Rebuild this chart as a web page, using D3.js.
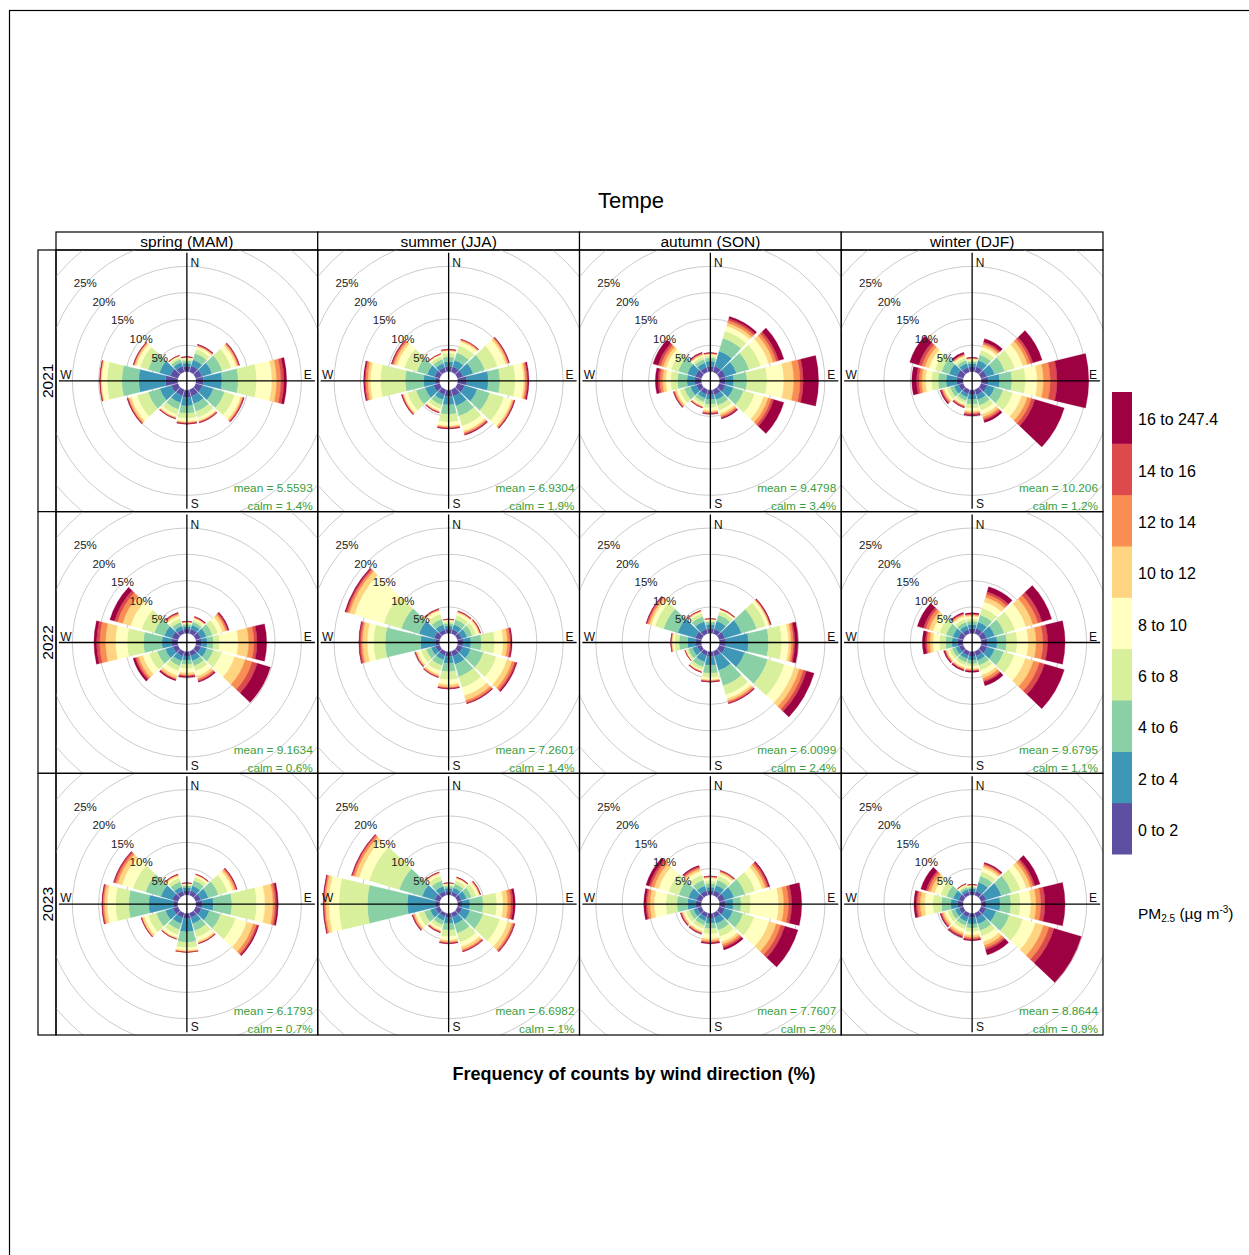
<!DOCTYPE html>
<html><head><meta charset="utf-8">
<script src="https://cdn.jsdelivr.net/npm/d3@7"></script>
<style>
body{margin:0;background:#fff}
svg{display:block}
text{font-family:"Liberation Sans",Arial,sans-serif}
</style>
</head><body>
<svg id="chart" width="1249" height="1255"></svg>
<script>
const title = "Tempe";
const xTitle = "Frequency of counts by wind direction (%)";
const seasons = ["spring (MAM)","summer (JJA)","autumn (SON)","winter (DJF)"];
const years = ["2021","2022","2023"];
const directions = [0,30,60,90,120,150,180,210,240,270,300,330];
const compass = ["N","E","S","W"];
const binLabels = ["0 to 2","2 to 4","4 to 6","6 to 8","8 to 10","10 to 12","12 to 14","14 to 16","16 to 247.4"];
const binColors = ["#5E4FA2","#3F97B7","#89D0A5","#D8EF9B","#FFFFBF","#FED481","#F98E52","#DD4A4C","#9E0142"];
const pctTicks = [5,10,15,20,25];
const gridRings = [5,10,15,20,25,30,35];
const means = [["5.5593","6.9304","9.4798","10.206"],["9.1634","7.2601","6.0099","9.6795"],["6.1793","6.6982","7.7607","8.8644"]];
const calms = [["1.4%","1.9%","3.4%","1.2%"],["0.6%","1.4%","2.4%","1.1%"],["0.7%","1%","2%","0.9%"]];

// frequency (%) per direction (rows, 0..330 deg) per concentration bin (columns)
const f2021Spring = [
[1.0,0.6,0.5,0.3,0.2,0.1,0.05,0.05,0.05],[1.2,1.2,1.3,0.8,0.5,0.2,0.1,0.1,0.1],[1.2,2.0,2.0,1.8,1.0,0.3,0.2,0.1,0.1],
[1.4,3.5,3.1,3.5,2.9,0.9,0.8,0.6,0.5],[1.3,2.2,2.2,2.0,1.2,0.3,0.2,0.1,0.1],[1.3,1.5,1.5,1.2,0.6,0.2,0.1,0.1,0.1],
[1.4,1.6,1.4,1.0,0.6,0.2,0.1,0.1,0.1],[1.2,1.4,1.3,1.0,0.5,0.2,0.1,0.05,0.05],[1.3,2.3,2.3,2.2,1.2,0.4,0.2,0.1,0.1],
[2.3,5.1,3.2,2.8,1.0,0.2,0.1,0.05,0.05],[1.5,2.2,2.2,1.6,0.8,0.3,0.15,0.1,0.05],[1.1,0.8,0.6,0.4,0.2,0.1,0.05,0.03,0.02]];
const f2021Summer = [
[1.0,0.9,0.9,0.7,0.4,0.15,0.1,0.05,0.05],[1.0,1.3,1.5,1.4,0.8,0.25,0.15,0.07,0.03],[1.1,2.0,2.3,2.5,1.6,0.4,0.2,0.1,0.1],
[1.7,4.1,2.2,2.9,1.6,0.3,0.3,0.2,0.2],[1.4,2.5,2.5,2.8,1.5,0.3,0.2,0.1,0.1],[1.3,1.9,2.0,2.0,1.0,0.3,0.2,0.2,0.1],
[1.2,1.6,1.8,1.5,0.7,0.2,0.2,0.1,0.1],[1.0,1.0,1.0,0.8,0.4,0.2,0.1,0.05,0.05],[1.2,1.7,1.8,1.7,0.7,0.2,0.1,0.1,0.1],
[0.8,2.2,3.5,4.7,1.9,0.5,0.4,0.2,0.2],[1.0,1.5,2.0,2.5,1.5,0.5,0.3,0.2,0.1],[0.9,0.8,0.8,0.6,0.3,0.1,0.05,0.03,0.02]];
const f2021Autumn = [
[1.0,1.0,0.6,0.4,0.25,0.15,0.1,0.05,0.05],[1.1,3.0,2.6,1.4,1.0,0.6,0.5,0.4,0.4],[1.2,2.2,2.5,2.3,1.6,0.9,0.6,0.5,1.0],
[1.1,1.6,2.5,3.8,3.2,1.9,1.2,0.6,2.9],[1.2,1.6,2.0,2.2,1.8,0.9,0.6,0.5,2.0],[1.0,1.0,1.1,1.0,0.6,0.4,0.3,0.2,0.2],
[0.9,0.9,0.9,0.7,0.5,0.3,0.2,0.1,0.1],[0.9,0.8,0.7,0.5,0.3,0.2,0.1,0.05,0.05],[1.0,1.2,1.2,0.9,0.6,0.3,0.2,0.1,0.1],
[1.2,1.5,1.8,1.3,0.9,0.6,0.5,0.4,0.5],[1.2,1.6,1.8,1.4,1.0,0.6,0.5,0.5,1.0],[0.9,0.9,0.7,0.5,0.3,0.2,0.15,0.1,0.15]];
const f2021Winter = [
[0.9,0.6,0.4,0.3,0.2,0.1,0.08,0.06,0.06],[1.0,1.3,1.1,0.9,0.7,0.4,0.3,0.3,0.6],[1.1,1.6,2.0,2.0,1.6,0.9,0.6,0.5,1.8],
[1.3,2.2,2.3,2.6,2.2,1.2,1.3,1.3,6.0],[1.2,1.5,1.7,1.9,1.8,1.1,0.8,0.7,5.8],[1.0,1.0,1.1,1.0,0.8,0.5,0.4,0.3,0.4],
[0.9,0.9,0.9,0.8,0.5,0.3,0.2,0.2,0.2],[0.8,0.7,0.7,0.5,0.3,0.2,0.15,0.1,0.15],[0.9,0.9,0.8,0.7,0.4,0.3,0.2,0.2,0.2],
[1.2,2.0,1.5,1.3,1.1,0.7,0.5,0.5,0.9],[1.2,1.6,1.5,1.3,1.2,0.8,0.6,0.6,1.8],[0.9,0.8,0.6,0.5,0.3,0.2,0.15,0.15,0.3]];
const f2022Spring = [
[0.8,0.5,0.4,0.2,0.15,0.1,0.05,0.05,0.05],[0.9,0.8,0.6,0.4,0.3,0.15,0.1,0.05,0.1],[1.0,1.1,1.2,1.1,0.9,0.6,0.3,0.2,0.2],
[1.0,1.1,1.2,1.2,3.5,2.0,1.0,0.6,1.8],[1.0,1.2,1.3,1.6,2.6,2.1,1.4,1.0,2.6],[0.9,1.0,1.0,1.0,1.0,0.5,0.3,0.2,0.2],
[0.8,0.8,0.8,0.8,0.8,0.4,0.2,0.1,0.2],[0.9,1.0,1.0,1.0,0.9,0.5,0.2,0.1,0.2],[1.0,1.5,1.6,1.6,1.3,0.8,0.4,0.3,0.4],
[1.1,1.9,3.5,3.1,2.2,1.9,1.1,0.6,0.5],[1.2,1.5,2.0,2.5,2.2,1.6,1.0,0.6,0.9],[0.8,0.7,0.8,0.7,0.5,0.3,0.2,0.1,0.1]];
const f2022Summer = [
[0.8,0.6,0.5,0.4,0.2,0.1,0.05,0.03,0.02],[0.8,1.0,1.0,0.8,0.5,0.2,0.1,0.05,0.05],[0.8,1.1,1.0,0.8,0.5,0.2,0.1,0.05,0.05],
[1.0,1.5,2.0,2.5,1.6,0.8,0.5,0.2,0.2],[1.0,1.6,2.5,2.6,2.1,1.0,0.5,0.3,0.2],[1.0,1.6,2.4,2.2,1.6,0.9,0.4,0.2,0.1],
[0.9,1.3,1.6,1.5,0.9,0.5,0.2,0.1,0.1],[0.8,0.9,1.1,1.1,0.7,0.3,0.15,0.1,0.05],[0.8,0.9,1.0,1.0,0.7,0.3,0.1,0.05,0.05],
[0.8,2.8,6.7,2.2,1.2,0.9,0.3,0.3,0.1],[1.1,3.0,3.5,3.5,5.8,1.0,0.4,0.3,0.2],[0.8,1.0,1.1,1.0,0.6,0.2,0.1,0.05,0.05]];
const f2022Autumn = [
[0.9,0.8,0.5,0.3,0.15,0.08,0.05,0.01,0.01],[0.9,1.6,1.2,0.7,0.3,0.1,0.05,0.03,0.02],[1.1,3.3,3.0,1.8,0.6,0.2,0.1,0.1,0.1],
[1.2,4.3,3.8,2.5,1.3,0.5,0.4,0.3,0.6],[1.2,3.8,4.6,3.3,2.0,1.0,0.8,0.6,1.5],[1.0,2.8,3.0,1.8,0.8,0.4,0.3,0.2,0.1],
[0.9,1.7,1.5,0.8,0.4,0.2,0.1,0.1,0.1],[0.8,1.3,1.0,0.6,0.2,0.1,0.1,0.05,0.05],[0.8,1.0,0.8,0.4,0.15,0.08,0.04,0.02,0.01],
[1.0,1.6,1.6,0.8,0.4,0.2,0.1,0.05,0.05],[1.2,3.5,2.8,1.7,0.8,0.4,0.3,0.2,0.1],[0.9,1.5,1.0,0.6,0.3,0.15,0.1,0.03,0.02]];
const f2022Winter = [
[0.9,0.8,0.6,0.5,0.4,0.25,0.15,0.1,0.2],[1.0,1.3,1.4,1.3,1.3,0.9,0.6,0.5,1.0],[1.1,1.6,1.9,2.1,2.2,1.4,1.0,0.8,1.9],
[1.2,1.8,1.8,2.0,2.1,1.5,1.3,0.9,3.3],[1.2,1.5,1.8,2.1,2.2,1.6,1.2,1.0,3.9],[0.9,0.9,1.0,1.0,0.9,0.6,0.5,0.3,0.7],
[0.8,0.8,0.7,0.5,0.4,0.25,0.15,0.1,0.2],[0.8,0.7,0.7,0.6,0.4,0.25,0.15,0.1,0.2],[0.8,0.7,0.7,0.6,0.4,0.25,0.15,0.1,0.2],
[1.0,1.1,1.2,1.2,1.2,0.6,0.5,0.3,0.6],[1.0,1.1,1.3,1.3,1.3,0.8,0.6,0.5,1.2],[0.8,0.8,0.7,0.6,0.5,0.3,0.2,0.1,0.2]];
const f2023Spring = [
[0.8,0.6,0.4,0.2,0.15,0.08,0.04,0.02,0.01],[0.9,1.0,1.0,0.7,0.35,0.15,0.05,0.03,0.02],[1.0,1.5,2.0,1.8,1.0,0.4,0.3,0.1,0.1],
[1.2,2.1,3.5,4.7,1.6,1.5,0.4,0.3,0.3],[1.1,1.6,2.2,3.0,2.2,1.3,0.6,0.3,0.2],[0.9,1.2,1.4,1.3,0.8,0.3,0.1,0.05,0.05],
[1.0,2.5,2.0,1.0,0.5,0.3,0.1,0.0,0.0],[0.9,1.2,1.2,1.0,0.6,0.2,0.05,0.03,0.02],[1.0,1.5,1.8,1.6,0.8,0.4,0.1,0.05,0.05],
[0.8,4.7,3.8,2.5,1.6,0.5,0.3,0.1,0.1],[1.1,2.3,3.0,2.5,2.2,0.9,0.4,0.3,0.1],[0.8,0.9,1.0,0.7,0.4,0.2,0.1,0.05,0.05]];
const f2023Summer = [
[0.7,0.6,0.4,0.3,0.15,0.08,0.04,0.02,0.01],[0.7,0.8,0.8,0.6,0.4,0.15,0.08,0.04,0.03],[0.8,1.0,1.0,0.9,0.5,0.2,0.1,0.05,0.05],
[0.8,1.5,2.5,2.6,1.2,0.9,0.6,0.4,0.4],[0.9,1.6,2.5,3.4,1.6,0.8,0.3,0.2,0.1],[0.8,1.4,1.8,1.8,0.9,0.5,0.3,0.1,0.1],
[0.8,1.1,1.3,1.2,0.7,0.3,0.2,0.1,0.1],[0.7,0.8,0.8,0.7,0.4,0.2,0.1,0.1,0.1],[0.8,1.1,1.2,1.1,0.6,0.3,0.2,0.1,0.1],
[0.8,5.3,7.6,5.4,1.9,0.6,0.3,0.1,0.1],[1.0,2.5,4.5,6.0,2.0,0.8,0.4,0.2,0.1],[0.8,1.0,1.1,0.9,0.5,0.15,0.1,0.03,0.02]];
const f2023Autumn = [
[0.8,0.7,0.7,0.6,0.4,0.2,0.1,0.05,0.05],[0.9,1.1,1.0,0.8,0.5,0.3,0.15,0.1,0.05],[1.1,1.8,2.2,2.0,1.4,0.6,0.4,0.3,0.2],
[1.1,1.5,1.5,1.8,5.3,1.0,0.9,0.6,1.9],[1.1,1.6,2.0,2.2,3.0,1.4,0.9,0.8,2.6],[0.9,1.2,1.3,1.3,1.0,0.5,0.4,0.3,0.4],
[0.9,1.0,1.0,1.0,0.9,0.4,0.3,0.1,0.2],[0.8,0.8,0.8,0.7,0.5,0.25,0.15,0.1,0.1],[0.8,0.8,0.8,0.7,0.5,0.25,0.15,0.1,0.1],
[1.0,1.6,2.0,2.1,2.2,0.8,0.5,0.3,0.4],[1.0,1.6,1.9,2.0,2.0,0.9,0.6,0.4,0.6],[0.9,1.0,1.1,1.0,0.8,0.4,0.3,0.2,0.2]];
const f2023Winter = [
[0.7,0.5,0.3,0.2,0.15,0.07,0.04,0.02,0.02],[0.8,1.8,1.2,0.9,0.7,0.4,0.3,0.2,0.2],[1.0,3.0,2.0,1.8,1.2,0.8,0.5,0.4,1.0],
[1.0,2.6,2.0,1.8,2.0,1.0,0.9,0.8,3.8],[1.0,2.0,2.6,2.7,2.5,1.6,1.1,1.0,5.4],[0.9,1.3,1.3,1.1,1.1,0.7,0.5,0.4,1.0],
[0.8,1.2,0.8,0.7,0.6,0.4,0.3,0.2,0.2],[0.8,0.9,0.8,0.7,0.6,0.4,0.3,0.2,0.2],[0.8,0.8,0.8,0.7,0.6,0.35,0.25,0.15,0.15],
[1.0,1.3,1.8,1.6,1.6,0.8,0.5,0.3,0.4],[0.9,1.1,1.3,1.2,1.2,0.8,0.5,0.4,1.0],[0.7,0.5,0.4,0.3,0.2,0.1,0.05,0.03,0.02]];

const panelData = [
  [f2021Spring,f2021Summer,f2021Autumn,f2021Winter],
  [f2022Spring,f2022Summer,f2022Autumn,f2022Winter],
  [f2023Spring,f2023Summer,f2023Autumn,f2023Winter]];

// ---------- layout ----------
const svg = d3.select("#chart");
const gridLeft = 56, gridTop = 250, gridRight = 1103, gridBottom = 1035;
const pw = (gridRight - gridLeft) / seasons.length;
const ph = (gridBottom - gridTop) / years.length;

// outer frame
svg.append("rect").attr("x",9.5).attr("y",10.5).attr("width",1300).attr("height",1300)
  .attr("fill","none").attr("stroke","#000").attr("stroke-width",1.2);

svg.append("text").attr("x",631).attr("y",208).attr("text-anchor","middle")
  .attr("font-size",22).attr("fill","#000").text(title);

// radial scale: percent -> px (with central hole)
const r = d3.scaleLinear().domain([0,25]).range([9.3,140.8]);
const halfSeg = 13.5 * Math.PI / 180;
const arc = d3.arc();
const stack = d3.stack().keys(d3.range(binLabels.length)).value((d,k)=>d[k]);

// strips
const strip = svg.append("g");
seasons.forEach((s,i)=>{
  const x0 = gridLeft + i*pw;
  strip.append("rect").attr("x",x0).attr("y",232).attr("width",pw).attr("height",gridTop-232)
    .attr("fill","#fff").attr("stroke","#000").attr("stroke-width",1.2);
  strip.append("text").attr("x",x0+pw/2).attr("y",246.5).attr("text-anchor","middle")
    .attr("font-size",15.5).text(s);
});
years.forEach((y,j)=>{
  const y0 = gridTop + j*ph;
  strip.append("rect").attr("x",38).attr("y",y0).attr("width",gridLeft-38).attr("height",ph)
    .attr("fill","#fff").attr("stroke","#000").attr("stroke-width",1.2);
  strip.append("text").attr("transform",`translate(52.5,${y0+ph/2}) rotate(-90)`)
    .attr("text-anchor","middle").attr("font-size",15.5).text(y);
});

const defs = svg.append("defs");
years.forEach((yr,j)=>{
  seasons.forEach((se,i)=>{
    const x0 = gridLeft + i*pw, y0 = gridTop + j*ph;
    const cx = x0 + pw/2, cy = y0 + ph/2;
    const id = `clip${j}${i}`;
    defs.append("clipPath").attr("id",id).append("rect")
      .attr("x",x0).attr("y",y0).attr("width",pw).attr("height",ph);
    const g = svg.append("g").attr("clip-path",`url(#${id})`);
    const c = g.append("g").attr("transform",`translate(${cx},${cy})`);
    // grid rings
    c.selectAll("circle.ring").data(gridRings).join("circle").attr("class","ring")
      .attr("r",d=>r(d)).attr("fill","none").attr("stroke","#cbcbcb").attr("stroke-width",1);
    // stacked wedges
    const series = stack(panelData[j][i]);
    series.forEach((ser,k)=>{
      c.append("g").selectAll("path").data(ser).join("path")
        .attr("d",(d,di)=>{
          const a = directions[di]*Math.PI/180;
          return arc({innerRadius:r(d[0]),outerRadius:r(d[1]),startAngle:a-halfSeg,endAngle:a+halfSeg});
        })
        .attr("fill",binColors[k]).attr("stroke",binColors[k]).attr("stroke-width",0.3);
    });
    // axes
    c.append("line").attr("x1",-128).attr("x2",128).attr("y1",0).attr("y2",0).attr("stroke","#000").attr("stroke-width",1.3);
    c.append("line").attr("x1",0).attr("x2",0).attr("y1",-128).attr("y2",128).attr("stroke","#000").attr("stroke-width",1.3);
    const cpos = {N:[8,-114,"middle"],E:[121,-2,"middle"],S:[8,127,"middle"],W:[-121,-2,"middle"]};
    compass.forEach(k=>{
      c.append("text").attr("x",cpos[k][0]).attr("y",cpos[k][1]).attr("text-anchor",cpos[k][2])
        .attr("font-size",12).attr("fill","#111").text(k);
    });
    // percentage labels along NW diagonal
    c.selectAll("text.pct").data(pctTicks).join("text").attr("class","pct")
      .attr("x",d=>-r(d)*Math.SQRT1_2-2).attr("y",d=>-r(d)*Math.SQRT1_2+2)
      .attr("text-anchor","middle").attr("dominant-baseline","central")
      .attr("font-size",11.5).attr("fill","#222").text(d=>d+"%");
    // annotations
    g.append("text").attr("x",x0+pw-5).attr("y",cy+111).attr("text-anchor","end")
      .attr("font-size",11.8).attr("fill","#3A9E3A").text("mean = "+means[j][i]);
    g.append("text").attr("x",x0+pw-5).attr("y",cy+129).attr("text-anchor","end")
      .attr("font-size",11.8).attr("fill","#3A9E3A").text("calm = "+calms[j][i]);
    // panel border
    svg.append("rect").attr("x",x0).attr("y",y0).attr("width",pw).attr("height",ph)
      .attr("fill","none").attr("stroke","#000").attr("stroke-width",1.2);
  });
});

// x title
svg.append("text").attr("x",634).attr("y",1080).attr("text-anchor","middle")
  .attr("font-size",18).attr("font-weight","bold").text(xTitle);

// legend
const lg = svg.append("g");
const lTop = 392, lBottom = 854;
const ly = d3.scaleBand().domain(d3.range(binLabels.length).reverse()).range([lTop,lBottom]);
lg.selectAll("rect").data(d3.range(binLabels.length)).join("rect")
  .attr("x",1112).attr("y",d=>ly(d)).attr("width",20).attr("height",ly.bandwidth()+0.5)
  .attr("fill",d=>binColors[d]);
lg.selectAll("text").data(d3.range(binLabels.length)).join("text")
  .attr("x",1138).attr("y",d=>ly(d)+ly.bandwidth()/2+2).attr("dominant-baseline","central")
  .attr("font-size",16).text(d=>binLabels[d]);
const lt = lg.append("text").attr("x",1138).attr("y",919).attr("font-size",15.5);
lt.append("tspan").text("PM");
lt.append("tspan").attr("font-size",10).attr("dy",3).text("2.5");
lt.append("tspan").attr("dy",-3).text(" (µg m");
lt.append("tspan").attr("font-size",10).attr("dy",-6).text("-3");
lt.append("tspan").attr("dy",6).text(")");
</script>
</body></html>
